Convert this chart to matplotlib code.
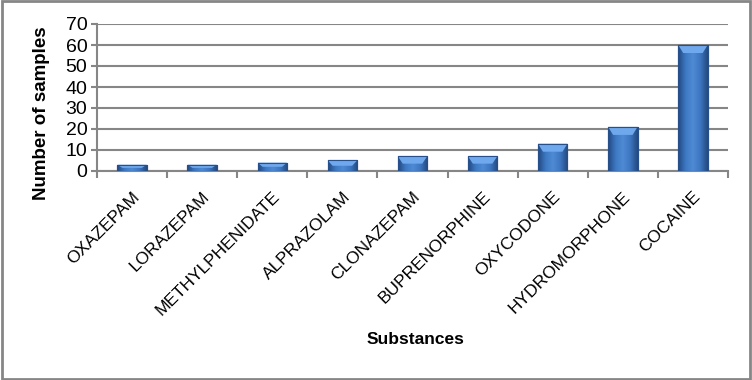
import matplotlib.pyplot as plt
import numpy as np
from matplotlib.colors import LinearSegmentedColormap
from matplotlib.patches import Polygon, Rectangle

substances = ["OXAZEPAM", "LORAZEPAM", "METHYLPHENIDATE", "ALPRAZOLAM", "CLONAZEPAM",
              "BUPRENORPHINE", "OXYCODONE", "HYDROMORPHONE", "COCAINE"]
samples = [3, 3, 4, 5, 7, 7, 13, 21, 60]
y_ticks = [0, 10, 20, 30, 40, 50, 60, 70]

plt.rcParams["font.family"] = ["Liberation Sans Narrow", "Liberation Sans", "DejaVu Sans"]
REG = ["Liberation Sans", "DejaVu Sans"]
GRAY = "#868686"

fig = plt.figure(figsize=(7.52, 3.8), dpi=100)
ax = fig.add_axes([97 / 752, 1 - 171 / 380, (728 - 97) / 752, (171 - 24) / 380])

x = np.arange(len(substances))
width = 0.42
bars = ax.bar(x, samples, width=width, color="#3a6fb8", edgecolor="#27508a",
              linewidth=0.8, zorder=3)

# horizontal gradient inside each bar
grad = LinearSegmentedColormap.from_list(
    "bar", ["#23497f", "#3d78c4", "#4f8ad4", "#3d76c0", "#24497e"])
g = np.linspace(0, 1, 64).reshape(1, -1)
ylim = 70
px_per_unit = (171 - 24) / ylim
for bar, val in zip(bars, samples):
    x0 = bar.get_x()
    x1 = x0 + bar.get_width()
    im = ax.imshow(g, cmap=grad, extent=(x0, x1, 0, val), aspect="auto",
                   zorder=3.5, interpolation="bicubic")
    im.set_clip_path(bar)
    # top bevel
    bevel = min(8 / px_per_unit, val / 2)
    inset = bar.get_width() * 0.17
    top = Polygon([(x0, val), (x1, val), (x1 - inset, val - bevel), (x0 + inset, val - bevel)],
                  closed=True, facecolor="#6fa8ec", edgecolor="none", zorder=4)
    ax.add_patch(top)
    ax.add_patch(Rectangle((x0, 0), bar.get_width(), val, facecolor="none",
                           edgecolor="#27508a", linewidth=0.8, zorder=4.5))

ax.set_xlim(-0.5, len(substances) - 0.5)
ax.set_ylim(0, ylim)
ax.set_yticks(y_ticks)
ax.set_xticks(x)
ax.set_xticklabels(substances, rotation=45, ha="right", va="top",
                   rotation_mode="anchor", fontsize=12.5, family=REG)
ax.set_xticks(np.arange(len(substances) + 1) - 0.5, minor=True)
ax.tick_params(axis="x", which="major", length=0, pad=13)
ax.tick_params(axis="x", which="minor", length=5, width=1.5, color=GRAY)
ax.tick_params(axis="y", length=4, width=1.5, color=GRAY, labelsize=14, pad=3)

ax.grid(axis="y", color=GRAY, linewidth=1.5, zorder=0)
ax.set_axisbelow(True)
for side in ("top", "right"):
    ax.spines[side].set_visible(False)
for side in ("left", "bottom"):
    ax.spines[side].set_color(GRAY)
    ax.spines[side].set_linewidth(1.5)

ax.set_ylabel("Number of samples", fontsize=13.5, fontweight="bold", family=REG)
ax.yaxis.set_label_coords(-0.074, 0.395)
fig.text(415 / 752, 1 - 340 / 380, "Substances", fontsize=12.5, fontweight="bold",
         ha="center", va="center", family=REG)

fig.patches.append(Rectangle((0.002, 0.003), 0.996, 0.994, transform=fig.transFigure,
                             facecolor="none", edgecolor=GRAY, linewidth=2))

fig.savefig("out.png", dpi=100)
plt.close(fig)
